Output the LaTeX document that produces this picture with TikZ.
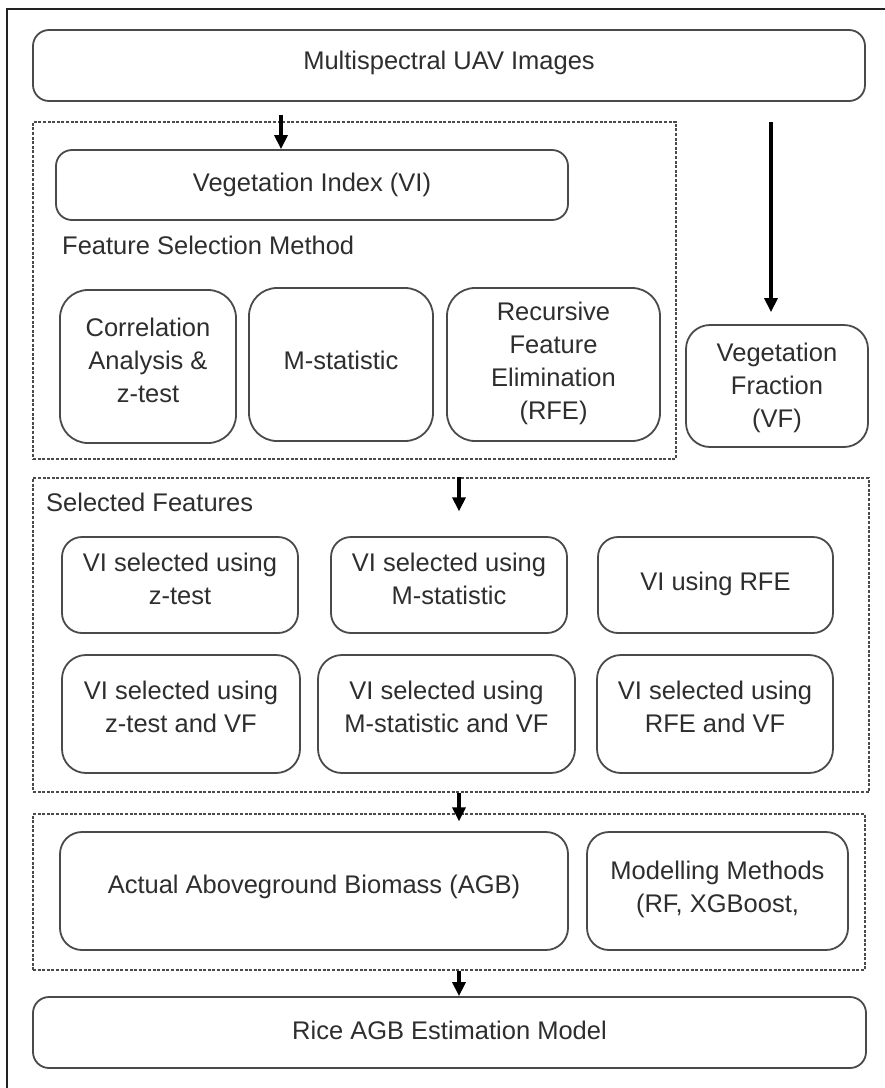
\documentclass[tikz,border=0pt]{standalone}
\usepackage{fontspec}
\setmainfont{Liberation Sans}
\usetikzlibrary{arrows.meta}
\definecolor{ln}{HTML}{4A4A4A}
\definecolor{tx}{HTML}{2E2E2E}
\definecolor{fr}{HTML}{222222}
\tikzset{
  box/.style={draw=ln, line width=1.8pt, rounded corners=#1, inner sep=0pt},
  box/.default=16pt,
  ltx/.style={text=tx, align=center, inner sep=0pt, font=\fontsize{25.5}{33}\selectfont},
  dframe/.style={draw=ln, line width=1.3pt, dash pattern=on 3pt off 1.6pt, inner sep=0pt},
  lbl/.style={text=tx, inner sep=0pt, anchor=west, font=\fontsize{25.5}{33}\selectfont},
  arr/.style={draw=black, line width=3.4pt, -{Triangle[length=14pt,width=13pt]}}
}
\begin{document}
\begin{tikzpicture}[x=1pt,y=-1pt]
\useasboundingbox[fill=white] (0,0) rectangle (885,1088);
\draw[fr, line width=2pt] (7,1095) -- (7,9) -- (892,9);

% dashed frames
\node[dframe, minimum width=643pt, minimum height=337pt] (fr1) at (354.5,290.5) {};
\node[dframe, minimum width=836pt, minimum height=314pt] (fr2) at (451,635) {};
\node[dframe, minimum width=832pt, minimum height=156pt] (fr3) at (449,892) {};

% boxes
\node[box, minimum width=832pt, minimum height=71pt,
  label={[ltx,yshift=3pt]center:{Multispectral UAV Images}}] (top) at (449,65.5) {};
\node[box, minimum width=512pt, minimum height=70pt,
  label={[ltx]center:{Vegetation Index (VI)}}] (vi) at (312,185) {};
\node[lbl] (fsm) at (62,245) {Feature Selection Method};
\node[box=28pt, minimum width=176pt, minimum height=153pt,
  label={[ltx,yshift=6pt]center:{Correlation\\Analysis \&\\z-test}}] (corr) at (148,366.5) {};
\node[box=28pt, minimum width=184pt, minimum height=153pt,
  label={[ltx,yshift=4pt]center:{M-statistic}}] (mst) at (341,364.5) {};
\node[box=28pt, minimum width=213pt, minimum height=153pt,
  label={[ltx,yshift=1pt]center:{Recursive\\Feature\\Elimination\\(RFE)}}] (rfe) at (553.5,364.5) {};
\node[box=24pt, minimum width=182pt, minimum height=122pt,
  label={[ltx,yshift=-2pt]center:{Vegetation\\Fraction\\(VF)}}] (vf) at (777,386) {};

\node[lbl] (sf) at (46,502) {Selected Features};
\node[box=20pt, minimum width=236pt, minimum height=96pt,
  label={[ltx,yshift=6pt]center:{VI selected using\\z-test}}] (r1a) at (180,585) {};
\node[box=20pt, minimum width=236pt, minimum height=96pt,
  label={[ltx,yshift=6pt]center:{VI selected using\\M-statistic}}] (r1b) at (449,585) {};
\node[box=20pt, minimum width=235pt, minimum height=96pt,
  label={[ltx,yshift=1pt]center:{VI using RFE}}] (r1c) at (715.5,585) {};
\node[box=24pt, minimum width=238pt, minimum height=118pt,
  label={[ltx,yshift=7pt]center:{VI selected using\\z-test and VF}}] (r2a) at (181,714) {};
\node[box=24pt, minimum width=257pt, minimum height=118pt,
  label={[ltx,yshift=7pt]center:{VI selected using\\M-statistic and VF}}] (r2b) at (446.5,714) {};
\node[box=24pt, minimum width=236pt, minimum height=118pt,
  label={[ltx,yshift=7pt]center:{VI selected using\\RFE and VF}}] (r2c) at (715,714) {};

\node[box=22pt, minimum width=508pt, minimum height=118pt,
  label={[ltx,yshift=4pt]center:{Actual Aboveground Biomass (AGB)}}] (agb) at (314,891) {};
\node[box=22pt, minimum width=261pt, minimum height=118pt,
  label={[ltx,yshift=2pt]center:{Modelling Methods\\(RF, XGBoost,}}] (mod) at (717.5,891) {};
\node[box, minimum width=833pt, minimum height=71pt,
  label={[ltx,yshift=2pt]center:{Rice AGB Estimation Model}}] (rice) at (449.5,1032.5) {};

% arrows
\coordinate (a1) at (281,115);
\coordinate (a2) at (771,122);
\coordinate (cx) at (459,0);
\draw[arr] (a1) -- (a1 |- vi.north);
\draw[arr] (a2) -- ([yshift=12pt]a2 |- vf.north);
\draw[arr] (fr2.north -| cx) -- ([yshift=-34pt]fr2.north -| cx);
\draw[arr] (fr2.south -| cx) -- ([yshift=-8pt]fr3.north -| cx);
\draw[arr] (fr3.south -| cx) -- (rice.north -| cx);
\end{tikzpicture}
\end{document}
